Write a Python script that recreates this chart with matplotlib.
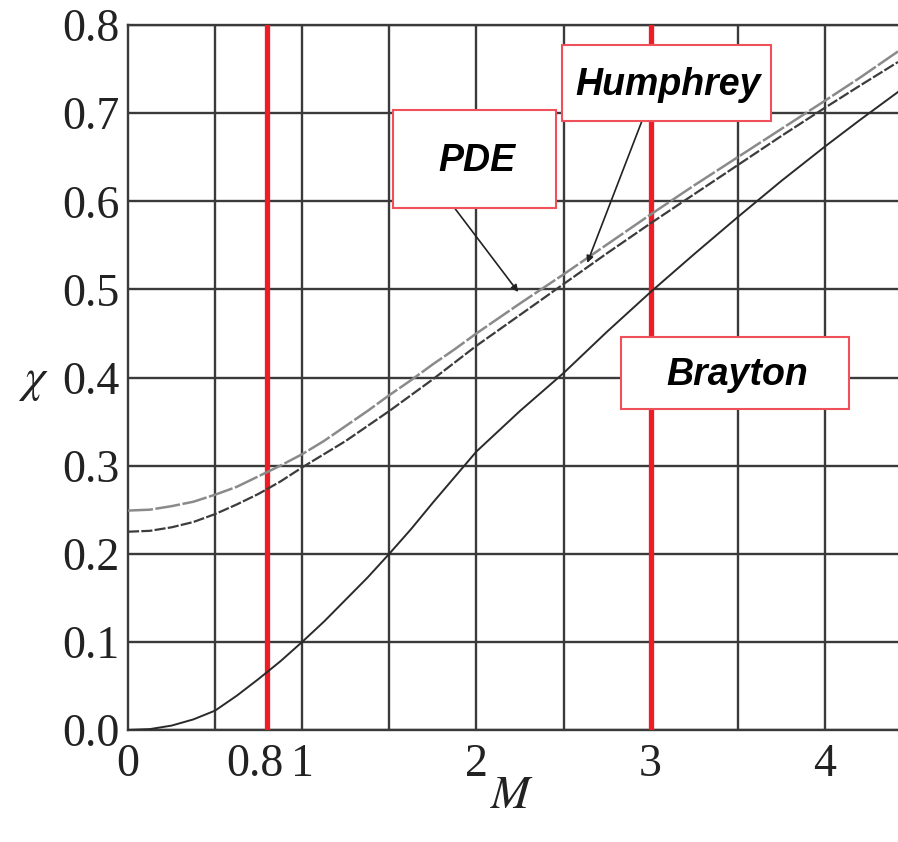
import matplotlib
matplotlib.use('Agg')
import matplotlib.pyplot as plt
from matplotlib.patches import Rectangle
from matplotlib.transforms import ScaledTranslation
import numpy as np

# values
mach = [0, 0.125, 0.25, 0.375, 0.5, 0.625, 0.75, 0.875, 1.0, 1.125, 1.25, 1.375, 1.5,
        1.625, 1.75, 1.875, 2.0, 2.25, 2.5, 2.75, 3.0, 3.25, 3.5, 3.75, 4.0, 4.2, 4.42]
chi_pde = [0.249, 0.25, 0.254, 0.259, 0.267, 0.276, 0.288, 0.3, 0.313, 0.328, 0.345,
           0.362, 0.38, 0.397, 0.415, 0.432, 0.45, 0.484, 0.517, 0.551, 0.585, 0.618,
           0.65, 0.682, 0.714, 0.74, 0.77]
chi_humphrey = [0.225, 0.226, 0.23, 0.236, 0.245, 0.256, 0.268, 0.282, 0.298, 0.313,
                0.328, 0.345, 0.362, 0.38, 0.398, 0.417, 0.436, 0.471, 0.506, 0.541,
                0.575, 0.608, 0.641, 0.674, 0.706, 0.731, 0.758]
chi_brayton = [0, 0.001, 0.005, 0.012, 0.022, 0.039, 0.058, 0.078, 0.1, 0.123, 0.148,
               0.173, 0.2, 0.228, 0.258, 0.287, 0.316, 0.362, 0.405, 0.452, 0.497,
               0.54, 0.582, 0.623, 0.662, 0.692, 0.724]

red_lines = [0.8, 3.0]
grid_x = [0.5, 1.0, 1.5, 2.0, 2.5, 3.0, 3.5, 4.0]
xtick_vals = [0, 0.8, 1, 2, 3, 4]
xtick_labels = ['0', '0.8', '1', '2', '3', '4']
ytick_vals = [0.0, 0.1, 0.2, 0.3, 0.4, 0.5, 0.6, 0.7, 0.8]

plt.rcParams['font.family'] = ['Liberation Serif', 'DejaVu Serif']
plt.rcParams['mathtext.fontset'] = 'stix'

fig = plt.figure(figsize=(8.98, 8.42), dpi=100)
ax = fig.add_axes([128 / 898, 112 / 842, 1 - 128 / 898, 705 / 842])

ax.set_xlim(0, 4.42)
ax.set_ylim(0, 0.8)

# grid
for gx in grid_x:
    ax.axvline(gx, color='#3a3a3a', lw=1.7, zorder=1)
ax.set_xticks(xtick_vals)
ax.set_xticklabels(xtick_labels)
ax.set_yticks(ytick_vals)
ax.set_yticklabels(['%.1f' % v for v in ytick_vals])
ax.grid(which='major', axis='y', color='#3a3a3a', lw=1.7)
ax.tick_params(which='both', length=0, labelsize=33, colors='#222222')
ax.tick_params(axis='x', pad=10)
ax.tick_params(axis='y', pad=6)
for s in ['left', 'bottom', 'top']:
    ax.spines[s].set_color('#3a3a3a')
    ax.spines[s].set_linewidth(1.7)
ax.spines['right'].set_visible(False)
ax.set_axisbelow(True)

# nudge the 0.8 label left so it clears the 1
lbl = ax.get_xticklabels()[1]
lbl.set_transform(lbl.get_transform() + ScaledTranslation(-12 / 100, 0, fig.dpi_scale_trans))

for xv in red_lines:
    ax.axvline(xv, color='#ee1c25', lw=3.8, zorder=3)

ax.plot(mach, chi_pde, color='#8a8a8a', lw=1.8, ls=(0, (10, 1)), zorder=4)
ax.plot(mach, chi_humphrey, color='#3c3c3c', lw=1.6, ls=(0, (5, 1)), zorder=4)
ax.plot(mach, chi_brayton, color='#2a2a2a', lw=1.4, zorder=4)

# label boxes
boxes = [
    ('PDE', 1.524, 0.5925, 0.934, 0.111, (2.24, 0.497), (1.874, 0.5925)),
    ('Humphrey', 2.49, 0.691, 1.20, 0.0865, (2.636, 0.530), (2.95, 0.691)),
    ('Brayton', 2.83, 0.364, 1.31, 0.082, None, None),
]
for name, x0, y0, w, h, tip, start in boxes:
    ax.add_patch(Rectangle((x0, y0), w, h, facecolor='white', edgecolor='#f0505a',
                           lw=1.5, zorder=6))
    ax.text(x0 + w / 2 + 0.01, y0 + h / 2 - 0.002, name, ha='center', va='center',
            fontsize=27, fontweight='bold', fontstyle='italic',
            family=['Liberation Sans', 'DejaVu Sans'], color='black', zorder=7)
    if tip is not None:
        ax.annotate('', xy=tip, xytext=start,
                    arrowprops=dict(arrowstyle='-|>', color='#222222', lw=1.2,
                                    mutation_scale=10, shrinkA=0, shrinkB=0),
                    zorder=5)

fig.text(33 / 898, 1 - 382 / 842, r'$\chi$', fontsize=34, ha='center', va='center',
         color='#222222')
fig.text(512 / 898, 1 - 797 / 842, r'$M$', fontsize=34, ha='center', va='center',
         color='#222222')

fig.savefig('out.png', dpi=100)
